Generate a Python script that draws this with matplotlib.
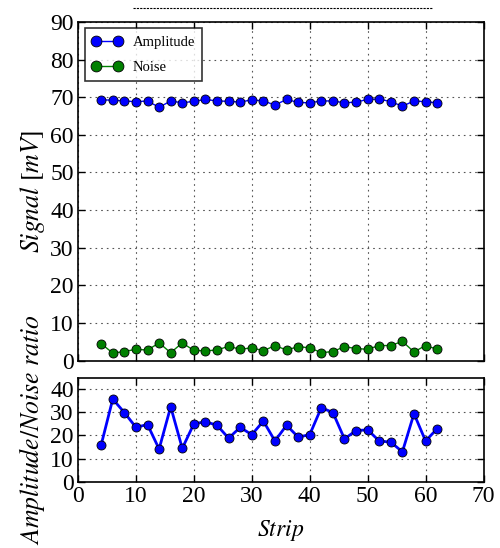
import numpy as np
import matplotlib
matplotlib.use("Agg")
import matplotlib.pyplot as plt
from matplotlib.lines import Line2D

plt.rcParams['font.family'] = ['Liberation Serif', 'DejaVu Serif']
plt.rcParams['mathtext.fontset'] = 'stix'

# data
strip = list(range(4, 63, 2))
amplitude = [69.3, 69.2, 69.0, 68.8, 69.0, 67.3, 69.0, 68.5, 68.9, 69.4,
             69.0, 68.9, 68.7, 69.3, 69.0, 67.9, 69.4, 68.6, 68.5, 69.0,
             69.0, 68.5, 68.7, 69.4, 69.5, 68.8, 67.6, 69.0, 68.8, 68.5]
noise = [4.5, 2.0, 2.4, 3.0, 2.8, 4.7, 2.1, 4.7, 2.7, 2.6,
         2.8, 3.8, 3.0, 3.4, 2.6, 4.0, 2.8, 3.7, 3.4, 2.1,
         2.4, 3.7, 3.2, 3.0, 4.0, 4.0, 5.1, 2.3, 4.0, 3.0]
ratio = [15.9, 35.7, 29.9, 23.5, 24.7, 14.1, 32.4, 14.4, 25.0, 25.9,
         24.4, 18.8, 23.5, 20.3, 26.2, 17.6, 24.4, 19.3, 20.3, 32.0,
         29.9, 18.5, 22.1, 22.4, 17.6, 17.1, 12.9, 29.4, 17.6, 22.9]

fig = plt.figure(figsize=(5.0, 5.48), dpi=100)
ax1 = fig.add_axes([0.156, 0.342, 0.811, 0.618])
ax2 = fig.add_axes([0.156, 0.121, 0.811, 0.190])

ax1.plot(strip, amplitude, '-o', color='blue', lw=1, ms=6.5, mec='black', mew=0.6, label='Amplitude')
ax1.plot(strip, noise, '-o', color='green', lw=1, ms=6.5, mec='black', mew=0.6, label='Noise')
ax2.plot(strip, ratio, '-o', color='blue', lw=2, ms=6.5, mec='black', mew=0.6)

ax1.set_xlim(0, 70)
ax1.set_ylim(0, 90)
ax1.set_yticks(np.arange(0, 91, 10))
ax1.set_xticks(np.arange(0, 71, 10))
ax1.tick_params(labelbottom=False)
ax2.set_xlim(0, 70)
ax2.set_ylim(0, 45)
ax2.set_yticks([0, 10, 20, 30, 40])
ax2.set_xticks(np.arange(0, 71, 10))

for ax in (ax1, ax2):
    ax.grid(True, color='#555555', linestyle=(0, (1.5, 3.6)), linewidth=0.8)
    ax.tick_params(direction='in', top=True, right=True, length=5, width=1, labelsize=17, pad=3)
    for s in ax.spines.values():
        s.set_linewidth(1.2)

ax1.set_ylabel(r'$Signal\ [mV]$', fontsize=18.5, labelpad=2)
ax2.set_ylabel(r'$Amplitude/Noise\ ratio$', fontsize=18.5, labelpad=2)
ax2.set_xlabel(r'$Strip$', fontsize=17, labelpad=8)

leg = ax1.legend(loc='upper left', numpoints=2, fontsize=10.5, fancybox=False,
                 borderaxespad=0.45, handlelength=2.1, handletextpad=0.7,
                 borderpad=0.5, labelspacing=0.8, markerscale=1.2)
leg.get_frame().set_edgecolor('black')
leg.get_frame().set_linewidth(1.2)

fig.add_artist(Line2D([0.266, 0.866], [0.985, 0.985], color='black', lw=0.8,
                      linestyle=(0, (2, 1)), transform=fig.transFigure))

fig.savefig('out.png', dpi=100)
